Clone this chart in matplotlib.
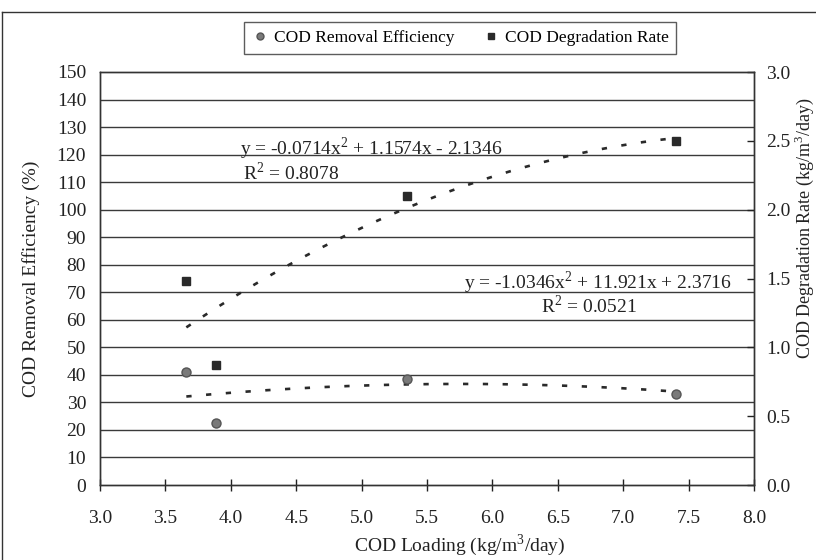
import numpy as np
import matplotlib
matplotlib.use('Agg')
import matplotlib.pyplot as plt
from matplotlib.lines import Line2D

# COD loading (kg/m3/day)
loading = [3.66, 3.89, 5.35, 7.40]
# removal efficiency (%) on left axis
removal = [41.0, 22.5, 38.5, 33.0]
# degradation rate (kg/m3/day) on right axis
degradation = [1.48, 0.87, 2.10, 2.50]

# trendline coefficients as printed on the chart (2nd order)
removal_fit = [-1.0346, 11.921, 2.3716]
removal_r2 = 0.0521
degradation_fit = [-0.0714, 1.1574, -2.1346]
degradation_r2 = 0.8078

plt.rcParams['font.family'] = ['Liberation Serif', 'DejaVu Serif']
plt.rcParams['mathtext.fontset'] = 'custom'
plt.rcParams['mathtext.rm'] = 'Liberation Serif'

W, H = 816, 560
fig = plt.figure(figsize=(W / 100, H / 100), dpi=100)
fig.patch.set_facecolor('white')

ax = fig.add_axes([100 / W, 75 / H, 654 / W, 413 / H])
ax2 = ax.twinx()

txt = '#222222'
grid_col = '#3a3a3a'
fs = 14

ax.set_xlim(3.0, 8.0)
ax.set_ylim(0, 150)
ax2.set_ylim(0, 3.0)
ax.set_yticks(np.arange(0, 151, 10))
ax.set_xticks(np.arange(3.0, 8.01, 0.5))
ax.set_xticklabels(['%.1f' % v for v in np.arange(3.0, 8.01, 0.5)])
ax2.set_yticks(np.arange(0, 3.01, 0.5))
ax2.set_yticklabels(['%.1f' % v for v in np.arange(0, 3.01, 0.5)])

for y in np.arange(10, 150, 10):
    ax.axhline(y, color=grid_col, lw=1.0, zorder=1)

ax.tick_params(axis='y', length=0, labelsize=fs, pad=10, colors=txt)
ax.tick_params(axis='x', direction='inout', length=8, width=1, labelsize=fs,
               pad=14, colors=txt)
ax2.tick_params(axis='y', direction='in', length=5, width=1, labelsize=fs,
                pad=9, colors=txt)
for a in (ax, ax2):
    for s in a.spines.values():
        s.set_color('#333333')
        s.set_linewidth(1.0)

# trendlines
xs = np.linspace(min(loading), max(loading), 200)
ax.plot(xs, np.polyval(removal_fit, xs), color='#2a2a2a', lw=1.9,
        dashes=(2, 5.5), dash_capstyle='butt', zorder=3)
ax2.plot(xs, np.polyval(degradation_fit, xs), color='#2a2a2a', lw=1.9,
         dashes=(2, 5.5), dash_capstyle='butt', zorder=3)

# data points
ax.plot(loading, removal, 'o', ms=6.5, color='#7a7a7a', mec='#555555',
        mew=1.0, zorder=4)
ax2.plot(loading, degradation, 's', ms=6.2, color='#2a2a2a', mec='#2a2a2a',
         zorder=4)

# equations
ax.text(4.07, 122.0, r'y = -0.0714x$^2$ + 1.1574x - 2.1346', fontsize=fs,
        va='center', ha='left', color=txt, zorder=5)
ax.text(4.09, 113.5, r'R$^2$ = %.4f' % degradation_r2, fontsize=fs,
        va='center', ha='left', color=txt, zorder=5)
ax.text(5.78, 73.5, r'y = -1.0346x$^2$ + 11.921x + 2.3716', fontsize=fs,
        va='center', ha='left', color=txt, zorder=5)
ax.text(6.37, 65.0, r'R$^2$ = %.4f' % removal_r2, fontsize=fs,
        va='center', ha='left', color=txt, zorder=5)

ax.set_xlabel('COD Loading (kg/m$^3$/day)', fontsize=fs, color=txt)
ax.set_ylabel('COD Removal Efficiency (%)', fontsize=fs, color=txt)
ax2.set_ylabel('COD Degradation Rate (kg/m$^3$/day)', fontsize=13,
               color=txt, rotation=90)
ax.xaxis.set_label_coords((460 - 100) / 654, (485 - 532) / 413)
ax.yaxis.set_label_coords((40 - 100) / 654, 0.5)
ax2.yaxis.set_label_coords((793 - 100) / 654, (485 - 228) / 413)

handles = [Line2D([], [], marker='o', ls='none', ms=5, color='#7a7a7a',
                  mec='#555555'),
           Line2D([], [], marker='s', ls='none', ms=5, color='#2a2a2a')]
leg = fig.legend(handles, ['COD Removal Efficiency', 'COD Degradation Rate'],
                 ncol=2, loc='center', bbox_to_anchor=(460 / W, 1 - 38 / H),
                 fontsize=12.5, frameon=True, fancybox=False,
                 handletextpad=0.3, columnspacing=1.6, handlelength=1.0,
                 borderpad=0.45)
leg.get_frame().set_edgecolor('#333333')
leg.get_frame().set_linewidth(1.0)

# outer chart border
fig.add_artist(Line2D([2 / W, 2 / W], [0, 1 - 12 / H], color='#333333', lw=1))
fig.add_artist(Line2D([2 / W, 1], [1 - 12 / H, 1 - 12 / H], color='#333333', lw=1))

fig.savefig('out.png', dpi=100)
